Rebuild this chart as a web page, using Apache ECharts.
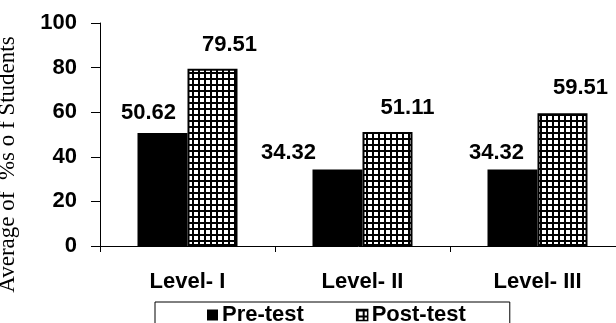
<!DOCTYPE html>
<html>
<head>
<meta charset="utf-8">
<script src="https://cdn.jsdelivr.net/npm/echarts@6/dist/echarts.min.js"></script>
<style>
  html, body { margin: 0; padding: 0; background: #fff; }
  #chart { width: 616px; height: 323px; }
</style>
</head>
<body>
<div id="chart"></div>
<script>
// Chart data
const categories = ['Level- I', 'Level- II', 'Level- III'];
const preTest = [50.62, 34.32, 34.32];
const postTest = [79.51, 51.11, 59.51];
const yTicks = [0, 20, 40, 60, 80, 100];

// Label nudges (px) so each value sits where it was typeset
const preLabelShift = [[-14, -4], [-49, -1], [-16, -1]];
const postLabelShift = [[17, -8], [20, -8], [18, -9]];

// Grid-check fill used for the post-test bars
function gridPattern() {
  const c = document.createElement('canvas');
  c.width = 6; c.height = 6;
  const g = c.getContext('2d');
  g.fillStyle = '#fff';
  g.fillRect(0, 0, 6, 6);
  g.fillStyle = '#000';
  g.fillRect(0, 0, 6, 2);
  g.fillRect(0, 0, 2, 6);
  return c;
}
const checkFill = { image: gridPattern(), repeat: 'repeat' };

const labelFont = {
  fontFamily: 'Liberation Sans, Arial, sans-serif',
  fontWeight: 'bold',
  fontSize: 22,
  color: '#000'
};

function withLabels(values, shifts) {
  return values.map((v, i) => ({
    value: v,
    label: { offset: shifts[i] }
  }));
}

const chart = echarts.init(document.getElementById('chart'), null, { renderer: 'canvas' });

chart.setOption({
  animation: false,
  backgroundColor: '#fff',
  grid: {
    left: 100, top: 23, width: 525, height: 223,
    containLabel: false,
    outerBoundsMode: 'none'
  },
  legend: {
    left: 155,
    top: 302,
    orient: 'horizontal',
    borderColor: '#000',
    borderWidth: 1,
    padding: [2, 44, 20, 52],
    itemGap: 52,
    itemWidth: 11,
    itemHeight: 11,
    textStyle: Object.assign({}, labelFont, { padding: [0, 0, 0, -1] }),
    data: [
      { name: 'Pre-test', icon: 'rect', itemStyle: { color: '#000', borderWidth: 0 } },
      { name: 'Post-test', icon: 'rect', itemStyle: { color: checkFill, borderColor: '#000', borderWidth: 1.5 } }
    ]
  },
  xAxis: {
    type: 'category',
    data: categories,
    boundaryGap: true,
    axisLine: { lineStyle: { color: '#000', width: 1 } },
    axisTick: { show: true, length: 6, alignWithLabel: false, lineStyle: { color: '#000' } },
    axisLabel: Object.assign({}, labelFont, { margin: 25, interval: 0 })
  },
  yAxis: {
    type: 'value',
    min: yTicks[0],
    max: yTicks[yTicks.length - 1],
    interval: yTicks[1] - yTicks[0],
    name: 'Average of  %s o f Students',
    nameLocation: 'middle',
    nameGap: 81,
    nameTextStyle: {
      fontFamily: 'Liberation Serif, Times New Roman, serif',
      fontSize: 23,
      color: '#000',
      padding: [0, 60, 0, 0]
    },
    splitLine: { show: false },
    axisLine: { show: true, lineStyle: { color: '#000', width: 1 } },
    axisTick: { show: true, inside: false, length: 9, lineStyle: { color: '#000' } },
    axisLabel: Object.assign({}, labelFont, { margin: 23 })
  },
  series: [
    {
      name: 'Pre-test',
      type: 'bar',
      barWidth: 50,
      barGap: '0%',
      itemStyle: { color: '#000' },
      label: Object.assign({ show: true, position: 'top', distance: 5 }, labelFont),
      data: withLabels(preTest, preLabelShift)
    },
    {
      name: 'Post-test',
      type: 'bar',
      barWidth: 50,
      barGap: '0%',
      itemStyle: { color: checkFill, borderColor: '#000', borderWidth: 2 },
      label: Object.assign({ show: true, position: 'top', distance: 5 }, labelFont),
      data: withLabels(postTest, postLabelShift)
    }
  ]
});
</script>
</body>
</html>
